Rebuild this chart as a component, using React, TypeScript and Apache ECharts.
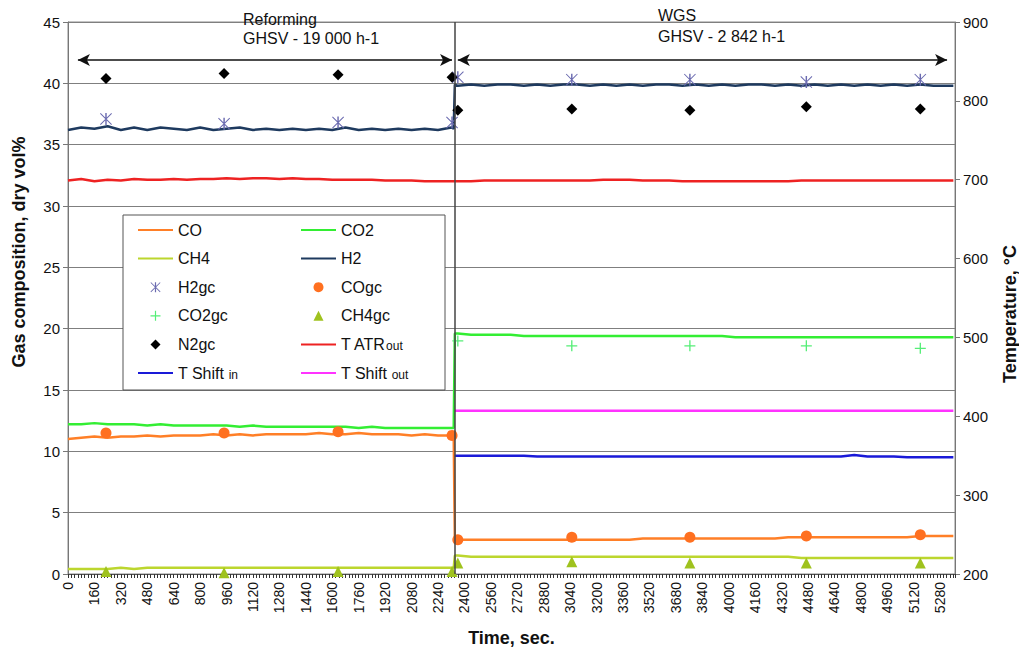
import React, { useEffect, useRef } from 'react';
import * as echarts from 'echarts';

const FONT = '"Liberation Sans", Arial, sans-serif';

// Time grid of the continuous (analyser) signals, seconds
const timeLine = [
  0, 80, 160, 240, 320, 400, 480, 560, 640, 720, 800, 880, 960, 1040, 1120, 1200, 1280, 1360, 1440, 1520,
  1600, 1680, 1760, 1840, 1920, 2000, 2080, 2160, 2240, 2320, 2335, 2342,
  2360, 2440, 2520, 2600, 2680, 2760, 2840, 2920, 3000, 3080, 3160, 3240, 3320, 3400, 3480, 3560, 3640, 3720,
  3800, 3880, 3960, 4040, 4120, 4200, 4280, 4360, 4440, 4520, 4600, 4680, 4760, 4840, 4920, 5000, 5080, 5160,
  5240, 5320, 5360,
];

const h2 = [
  36.2, 36.4, 36.3, 36.5, 36.2, 36.4, 36.2, 36.4, 36.3, 36.2, 36.4, 36.2, 36.3, 36.4, 36.2, 36.3, 36.2, 36.3, 36.2, 36.3,
  36.2, 36.4, 36.2, 36.3, 36.2, 36.3, 36.2, 36.3, 36.2, 36.4, 36.3, 39.9,
  39.8, 39.9, 39.8, 39.9, 39.9, 39.8, 39.9, 39.8, 39.9, 39.9, 39.8, 39.9, 39.8, 39.9, 39.8, 39.9, 39.9, 39.8,
  39.9, 39.8, 39.9, 39.8, 39.9, 39.9, 39.8, 39.9, 39.8, 39.9, 39.8, 39.9, 39.8, 39.9, 39.8, 39.9, 39.8, 39.9,
  39.8, 39.8, 39.8,
];

const co = [
  11.0, 11.1, 11.2, 11.1, 11.2, 11.2, 11.3, 11.2, 11.3, 11.3, 11.3, 11.4, 11.3, 11.4, 11.3, 11.4, 11.4, 11.4, 11.4, 11.5,
  11.4, 11.4, 11.5, 11.4, 11.4, 11.4, 11.3, 11.4, 11.3, 11.3, 11.3, 2.8,
  2.8, 2.8, 2.8, 2.8, 2.8, 2.8, 2.8, 2.8, 2.8, 2.8, 2.8, 2.8, 2.8, 2.8, 2.9, 2.9, 2.9, 2.9,
  2.9, 2.9, 2.9, 2.9, 2.9, 2.9, 2.9, 3.0, 3.0, 3.0, 3.0, 3.0, 3.0, 3.0, 3.0, 3.0, 3.0, 3.1,
  3.1, 3.1, 3.1,
];

const co2 = [
  12.2, 12.2, 12.3, 12.2, 12.2, 12.2, 12.1, 12.2, 12.1, 12.1, 12.1, 12.1, 12.1, 12.0, 12.1, 12.0, 12.0, 12.0, 12.0, 12.0,
  12.0, 12.0, 11.9, 12.0, 11.9, 11.9, 11.9, 11.9, 11.9, 11.9, 11.9, 19.6,
  19.6, 19.5, 19.5, 19.5, 19.5, 19.4, 19.4, 19.4, 19.4, 19.4, 19.4, 19.4, 19.4, 19.4, 19.4, 19.4, 19.4, 19.4,
  19.4, 19.4, 19.4, 19.3, 19.3, 19.3, 19.3, 19.3, 19.3, 19.3, 19.3, 19.3, 19.3, 19.3, 19.3, 19.3, 19.3, 19.3,
  19.3, 19.3, 19.3,
];

const ch4 = [
  0.4, 0.4, 0.4, 0.4, 0.5, 0.4, 0.5, 0.5, 0.5, 0.5, 0.5, 0.5, 0.5, 0.5, 0.5, 0.5, 0.5, 0.5, 0.5, 0.5,
  0.5, 0.5, 0.5, 0.5, 0.5, 0.5, 0.5, 0.5, 0.5, 0.5, 0.5, 1.5,
  1.5, 1.4, 1.4, 1.4, 1.4, 1.4, 1.4, 1.4, 1.4, 1.4, 1.4, 1.4, 1.4, 1.4, 1.4, 1.4, 1.4, 1.4,
  1.4, 1.4, 1.4, 1.4, 1.4, 1.4, 1.4, 1.4, 1.3, 1.3, 1.3, 1.3, 1.3, 1.3, 1.3, 1.3, 1.3, 1.3,
  1.3, 1.3, 1.3,
];

const tAtrOut = [
  699, 701, 698, 700, 699, 701, 700, 700, 701, 700, 701, 701, 702, 701, 702, 702, 701, 702, 701, 701,
  700, 700, 700, 700, 699, 699, 699, 698, 698, 698, 698, 698,
  698, 698, 699, 699, 699, 699, 699, 699, 699, 699, 699, 700, 700, 700, 699, 699, 699, 698,
  698, 698, 698, 698, 698, 698, 698, 698, 699, 699, 699, 699, 699, 699, 699, 699, 699, 699,
  699, 699, 699,
];

// Shift reactor temperatures are logged in the WGS stage only
const timeWgs = [
  2342, 2360, 2440, 2520, 2600, 2680, 2760, 2840, 2920, 3000, 3080, 3160, 3240, 3320, 3400, 3480, 3560, 3640, 3720,
  3800, 3880, 3960, 4040, 4120, 4200, 4280, 4360, 4440, 4520, 4600, 4680, 4760, 4840, 4920, 5000, 5080, 5160,
  5240, 5320, 5360,
];
const tShiftIn = [
  350, 350, 350, 350, 350, 350, 350, 349, 349, 349, 349, 349, 349, 349, 349, 349, 349, 349, 349,
  349, 349, 349, 349, 349, 349, 349, 349, 349, 349, 349, 349, 351, 349, 349, 349, 348, 348,
  348, 348, 348,
];
const tShiftOut = [
  407, 407, 407, 407, 407, 407, 407, 407, 407, 407, 407, 407, 407, 407, 407, 407, 407, 407, 407,
  407, 407, 407, 407, 407, 407, 407, 407, 407, 407, 407, 407, 407, 407, 407, 407, 407, 407,
  407, 407, 407,
];

// Gas chromatograph samples
const gcTimes = [230, 945, 1635, 2325, 2360, 3050, 3765, 4470, 5160];
const h2gc = [37.1, 36.7, 36.8, 36.8, 40.5, 40.3, 40.3, 40.1, 40.3];
const cogc = [11.5, 11.5, 11.6, 11.3, 2.8, 3.0, 3.0, 3.1, 3.2];
const co2gc = [null, null, null, null, 19.0, 18.6, 18.6, 18.6, 18.4];
const ch4gc = [0.2, 0.1, 0.2, 0.2, 0.9, 1.0, 0.9, 0.9, 0.9];
const n2gc = [40.4, 40.8, 40.7, 40.5, 37.8, 37.9, 37.8, 38.1, 37.9];

// Stage markers
const stageSwitch = 2343;
const arrowLevel = 41.9;
const reformingSpan = [60, 2325];
const wgsSpan = [2360, 5322];

const xMax = 5370;
const xInterval = 160;
const leftTicks = { min: 0, max: 45, interval: 5 };
const rightTicks = { min: 200, max: 900, interval: 100 };

const pair = (ts: number[], vs: (number | null)[]) => ts.map((t, i) => [t, vs[i]]);

const ASTERISK = 'path://M4.4,0H5.6V10H4.4Z M0.6,0L10,9.4L9.4,10L0,0.6Z M9.4,0L10,0.6L0.6,10L0,9.4Z';
const PLUS = 'path://M4.4,0H5.6V4.4H10V5.6H5.6V10H4.4V5.6H0V4.4H4.4Z';
const DIAMOND = 'path://M5,0L10,5L5,10L0,5Z';
const TRIANGLE = 'path://M5,0L10,10L0,10Z';

const legendRich = {
  s: { fontSize: 12, fontFamily: FONT, color: '#111', padding: [4, 0, 0, 0], lineHeight: 16 },
};
const legendFormatter = (name: string) => {
  if (name === 'T ATRout') return 'T ATR{s|out}';
  if (name === 'T Shift in') return 'T Shift {s|in}';
  if (name === 'T Shift out') return 'T Shift {s|out}';
  return name;
};

const lineNames = ['CO', 'CO2', 'CH4', 'H2', 'T ATRout', 'T Shift in', 'T Shift out'];
const legendItem = (name: string) =>
  lineNames.includes(name)
    ? { name, itemStyle: { color: 'rgba(0,0,0,0)', borderWidth: 0, opacity: 0 } }
    : { name };

export default function App() {
  const ref = useRef<HTMLDivElement>(null);

  useEffect(() => {
    if (!ref.current) return;
    const chart = echarts.init(ref.current, undefined, { renderer: 'svg' });

    const lineSeries = (name: string, color: string, data: any[], yAxisIndex = 0, extra: any = {}) => ({
      name,
      type: 'line',
      data,
      yAxisIndex,
      symbol: 'none',
      lineStyle: { color, width: 2.5 },
      itemStyle: { color },
      z: 2,
      ...extra,
    });
    const scatterSeries = (name: string, color: string, symbol: string, size: number, data: any[]) => ({
      name,
      type: 'scatter',
      data: data.filter((d) => d[1] !== null),
      symbol,
      symbolSize: size,
      symbolKeepAspect: true,
      itemStyle: { color, opacity: 1 },
      z: 3,
    });

    const legendCommon = {
      orient: 'vertical',
      top: 222,
      itemWidth: 35,
      itemHeight: 10,
      itemGap: 12.6,
      padding: 0,
      selectedMode: false,
      textStyle: { fontSize: 16, fontFamily: FONT, color: '#111', lineHeight: 16, rich: legendRich },
      formatter: legendFormatter,
      z: 5,
    };

    chart.setOption({
      animation: false,
      backgroundColor: '#fff',
      textStyle: { fontFamily: FONT },
      grid: {
        left: 68,
        right: 64,
        top: 22,
        bottom: 76,
        show: true,
        borderColor: '#8a8a8a',
        borderWidth: 1,
        containLabel: false,
        outerBoundsMode: 'none',
      },
      legend: [
        { ...legendCommon, left: 137, data: ['CO', 'CH4', 'H2gc', 'CO2gc', 'N2gc', 'T Shift in'].map(legendItem) },
        { ...legendCommon, left: 300, data: ['CO2', 'H2', 'COgc', 'CH4gc', 'T ATRout', 'T Shift out'].map(legendItem) },
      ],
      xAxis: {
        type: 'value',
        min: 0,
        max: xMax,
        interval: xInterval,
        name: 'Time, sec.',
        nameLocation: 'middle',
        nameGap: 55,
        nameMoveOverlap: false,
        nameTextStyle: { fontSize: 18, fontWeight: 'bold', color: '#111', fontFamily: FONT },
        axisLine: { show: true, lineStyle: { color: '#555', width: 1 } },
        axisTick: { show: true, length: 4, lineStyle: { color: '#333' } },
        minorTick: { show: true, splitNumber: 8, length: 4, lineStyle: { color: '#333' } },
        axisLabel: {
          rotate: 90,
          fontSize: 14,
          color: '#111',
          margin: 8,
          showMaxLabel: false,
          fontFamily: FONT,
          formatter: (v: number) => String(v),
        },
        splitLine: { show: false },
      },
      yAxis: [
        {
          type: 'value',
          position: 'left',
          ...leftTicks,
          axisLine: { show: true, lineStyle: { color: '#777' } },
          axisTick: { show: true, length: 5, lineStyle: { color: '#777' } },
          axisLabel: { fontSize: 15, color: '#111', margin: 8, fontFamily: FONT },
          splitLine: { show: true, lineStyle: { color: '#7f7f7f', width: 1 } },
        },
        {
          type: 'value',
          position: 'right',
          ...rightTicks,
          axisLine: { show: true, lineStyle: { color: '#777' } },
          axisTick: { show: true, length: 5, lineStyle: { color: '#777' } },
          axisLabel: { fontSize: 15, color: '#111', margin: 8, fontFamily: FONT },
          splitLine: { show: false },
        },
      ],
      graphic: [
        {
          type: 'rect',
          shape: { x: 123, y: 215, width: 322, height: 175 },
          style: { fill: '#fff', stroke: '#555', lineWidth: 1 },
          z: 4,
        },
        { type: 'text', x: 243, y: 19, z: 10, style: { text: 'Reforming', font: `16px ${FONT}`, fill: '#111', verticalAlign: 'middle' } },
        { type: 'text', x: 243, y: 38, z: 10, style: { text: 'GHSV - 19 000 h-1', font: `16px ${FONT}`, fill: '#111', verticalAlign: 'middle' } },
        { type: 'text', x: 658, y: 15, z: 10, style: { text: 'WGS', font: `16px ${FONT}`, fill: '#111', verticalAlign: 'middle' } },
        { type: 'text', x: 658, y: 36, z: 10, style: { text: 'GHSV - 2 842 h-1', font: `16px ${FONT}`, fill: '#111', verticalAlign: 'middle' } },
        {
          type: 'text', x: 19, y: 252, rotation: Math.PI / 2, z: 10,
          style: { text: 'Gas composition, dry vol%', font: `bold 18px ${FONT}`, fill: '#111', align: 'center', verticalAlign: 'middle' },
        },
        {
          type: 'text', x: 1010, y: 314, rotation: Math.PI / 2, z: 10,
          style: { text: 'Temperature, °C', font: `bold 18px ${FONT}`, fill: '#111', align: 'center', verticalAlign: 'middle' },
        },
      ],
      series: [
        lineSeries('CO', '#ff7f27', pair(timeLine, co)),
        lineSeries('CO2', '#33ee33', pair(timeLine, co2)),
        lineSeries('CH4', '#bcd62e', pair(timeLine, ch4)),
        lineSeries('H2', '#1e3a5f', pair(timeLine, h2), 0, {
          markLine: {
            silent: true,
            symbol: ['none', 'none'],
            label: { show: false },
            lineStyle: { color: '#444', width: 1.5, type: 'solid' },
            data: [
              { xAxis: stageSwitch },
              [
                { coord: [reformingSpan[0], arrowLevel], symbol: 'arrow', symbolSize: [9, 12], lineStyle: { color: '#111', width: 1.5 } },
                { coord: [reformingSpan[1], arrowLevel], symbol: 'arrow', symbolSize: [9, 12] },
              ],
              [
                { coord: [wgsSpan[0], arrowLevel], symbol: 'arrow', symbolSize: [9, 12], lineStyle: { color: '#111', width: 1.5 } },
                { coord: [wgsSpan[1], arrowLevel], symbol: 'arrow', symbolSize: [9, 12] },
              ],
            ],
          },
        }),
        lineSeries('T ATRout', '#ee2222', pair(timeLine, tAtrOut), 1),
        lineSeries('T Shift in', '#1a1ad8', pair(timeWgs, tShiftIn), 1),
        lineSeries('T Shift out', '#ff33ff', pair(timeWgs, tShiftOut), 1),
        scatterSeries('H2gc', '#6b6bb0', ASTERISK, 12, pair(gcTimes, h2gc)),
        scatterSeries('COgc', '#ff7020', 'circle', 11, pair(gcTimes, cogc)),
        scatterSeries('CO2gc', '#55ee77', PLUS, 11, pair(gcTimes, co2gc)),
        scatterSeries('CH4gc', '#9fc21e', TRIANGLE, 11, pair(gcTimes, ch4gc)),
        scatterSeries('N2gc', '#000000', DIAMOND, 11, pair(gcTimes, n2gc)),
      ],
    });

    return () => chart.dispose();
  }, []);

  return <div ref={ref} style={{ position: 'absolute', left: 0, top: 0, width: 1019, height: 650 }} />;
}
